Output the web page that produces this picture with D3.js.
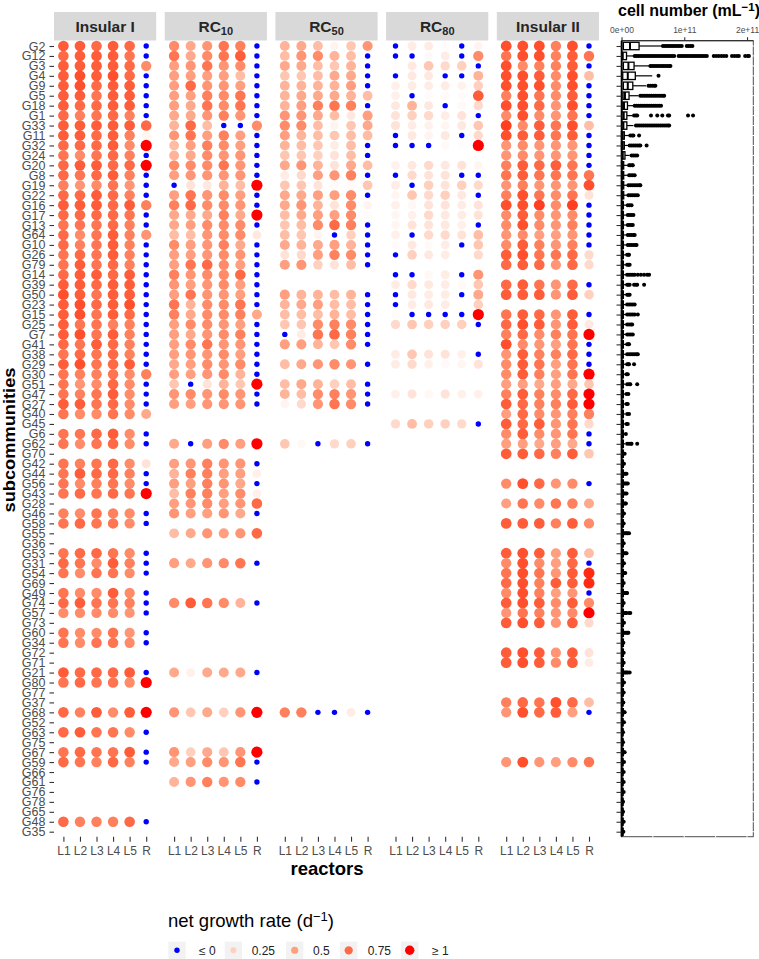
<!DOCTYPE html>
<html>
<head>
<meta charset="utf-8">
<script src="https://cdn.jsdelivr.net/npm/d3@7"></script>
<style>
  html, body { margin: 0; padding: 0; background: #fff; }
  svg { display: block; font-family: "Liberation Sans", Arial, sans-serif; }
</style>
</head>
<body>
<svg id="plot" width="759" height="959"></svg>
<script>
////////////////////////////////////////////////////////////////
// Data

let subcommunities = ["G2","G12","G3","G4","G9","G5","G18","G1","G33","G11","G32","G24","G20","G8","G19","G22","G16","G17","G13","G64",
  "G10","G26","G79","G14","G39","G50","G23","G15","G25","G7","G41","G38","G29","G30","G51","G47","G27","G40","G45","G6",
  "G62","G70","G42","G44","G56","G43","G28","G46","G58","G55","G36","G53","G31","G54","G69","G49","G74","G57","G73","G60",
  "G34","G72","G71","G21","G80","G77","G37","G68","G52","G63","G75","G67","G59","G66","G61","G76","G78","G65","G48","G35"]

let reactors = ["L1","L2","L3","L4","L5","R"]
let legendValues = [0,0.25,0.5,0.75,1]
let legendLabels = ["≤ 0","0.25","0.5","0.75","≥ 1"]
let boxTicks = [0,10,20]
let boxTickLabels = ["0e+00","1e+11","2e+11"]

// net growth rate, one row per subcommunity, columns L1..L5,R. null = no data
let n = null
let insular1 = [
[.8,.8,.75,.8,.75,0],[.75,.8,.8,.8,.7,0],[.8,.8,.8,.8,.75,.6],[.8,.85,.8,.85,.75,0],[.8,.85,.75,.8,.8,0],
[.8,.8,.7,.8,.8,0],[.8,.75,.75,.8,.8,0],[.75,.65,.7,.75,.65,0],[.8,.8,.8,.8,.8,.75],[.8,.8,.75,.8,.65,.05],
[.75,.75,.75,.8,.6,1],[.7,.6,.7,.75,.65,0],[.75,.8,.8,.75,.75,1],[.75,.7,.75,.8,.65,0],[.65,.55,.6,.7,.55,0],
[.75,.75,.8,.75,.65,0],[.8,.8,.8,.75,.8,.65],[.75,.75,.75,.75,.7,0],[.7,.7,.7,.75,.65,0],[.75,.6,.7,.8,.65,.55],
[.75,.65,.7,.8,.65,0],[.7,.75,.7,.8,.65,0],[.7,.8,.7,.75,.65,0],[.75,.8,.8,.75,.8,0],[.8,.8,.75,.8,.8,0],
[.85,.8,.7,.8,.8,0],[.8,.85,.75,.8,.85,0],[.8,.85,.7,.8,.75,0],[.8,.7,.7,.65,.65,0],[.8,.85,.7,.8,.65,0],
[.75,.7,.8,.75,.65,0],[.7,.75,.7,.75,.65,0],[.8,.85,.7,.75,.8,0],[.7,.65,.65,.7,.6,.65],[.7,.55,.6,.75,.6,0],
[.7,.65,.7,.8,.6,0],[.8,.8,.7,.75,.6,0],[.7,.6,.6,.7,.6,.45],n,[.7,.7,.75,.8,.6,0],
[.7,.6,.7,.75,.6,0],n,[.7,.65,.7,.75,.6,.15],[.7,.8,.75,.75,.65,0],[.7,.6,.65,.7,.6,0],
[.7,.75,.7,.75,.7,1],n,[.65,.6,.7,.65,.6,0],[.7,.75,.7,.7,.6,0],n,
n,[.7,.75,.75,.7,.6,0],[.75,.7,.6,.8,.65,0],[.7,.6,.7,.7,.6,0],n,
[.7,.6,.6,.8,.6,0],[.75,.8,.7,.7,.65,0],[.6,.6,.6,.6,.55,0],n,[.7,.6,.6,.7,.55,0],
[.7,.6,.7,.7,.6,0],n,n,[.8,.75,.75,.75,.8,0],[.7,.75,.7,.7,.6,1],
n,n,[.75,.65,.8,.6,.8,1],n,[.75,.8,.7,.7,.6,0],
n,[.7,.75,.7,.7,.8,0],[.75,.7,.65,.75,.65,0],n,n,
n,n,n,[.75,.65,.65,.65,.75,0],n]

let rc10 = [
[.6,.45,.55,.7,.65,0],[.7,.45,.6,.7,.8,0],[.5,.55,.7,.55,.6,0],[.5,.5,.5,.5,.35,0],[.5,.75,.55,.55,.5,0],
[.5,.5,.65,.6,.7,0],[.5,.45,.7,.6,.7,0],[.45,.45,.55,.65,.55,0],[.4,.75,.35,0,0,.6],[.55,.7,.5,.65,.5,0],
[.35,.5,.65,.6,.5,0],[.4,.45,.6,.55,.55,0],[.6,.6,.6,.7,.55,0],[.5,.55,.55,.55,.55,0],[0,.15,.12,.4,.35,1],
[.5,.7,.55,.6,.5,0],[.65,.75,.6,.6,.55,0],[.45,.45,.45,.65,.45,1],[.45,.5,.6,.6,.6,0],[.35,.35,.55,.6,.6,.12],
[.6,.5,.55,.65,.45,0],[.5,.5,.55,.6,.55,0],[.5,.7,.75,.6,.5,0],[.65,.55,.6,.6,.75,0],[.55,.5,.55,.6,.5,0],
[.5,.7,.55,.55,.5,0],[.7,.4,.6,.6,.7,0],[.65,.45,.6,.6,.65,.45],[.5,.6,.6,.55,.5,0],[.5,.45,.55,.6,.65,0],
[.5,.6,.7,.55,.55,0],[.5,.55,.55,.6,.5,0],[.45,.5,.6,.55,.6,0],[.5,.5,.55,.6,.4,0],[.3,0,.15,.4,.3,1],
[.55,.6,.55,.6,.55,0],[.5,.5,.55,.55,.55,0],n,n,n,
[.45,0,.5,.6,.5,1],n,[.5,.55,.65,.55,.55,0],[.4,.65,.65,.5,.5,.08],[.5,.5,.65,.55,.45,0],
[.35,.65,.65,.5,.6,.08],[.5,.55,.6,.5,.55,.75],[.55,.5,.5,.55,.45,0],n,[.35,.45,.55,.5,.55,.75],
n,n,[.5,.45,.55,.6,.7,0],n,n,
n,[.6,.8,.7,.6,.4,0],n,n,n,
n,n,n,[.45,.08,.45,.45,.45,0],n,
n,n,[.55,.3,.45,.25,.55,1],n,n,
n,[.55,.25,.45,.3,.55,1],[.45,.5,.6,.55,.7,0],n,[.4,.55,.65,.55,.6,0],
n,n,n,n,n]

let rc50 = [
[.4,.45,.35,.06,.3,.55],[.35,.55,.6,.4,.35,0],[.45,.45,.35,.3,.4,0],[.3,.3,.35,.45,.45,0],[.4,.4,.4,.4,.5,0],
[.4,.45,.45,.45,.4,.35],[.4,.5,.65,.7,.65,0],[.55,.55,.45,.35,.12,.5],[.6,.6,.35,.06,.3,.45],[.5,.4,.35,.3,.35,.35],
[.4,.35,.3,.1,.35,0],[.3,.3,.25,.15,.35,0],[.45,.55,.4,.15,.45,.35],[.1,.2,.5,.55,.65,0],[.3,.3,.15,.03,.03,.3],
[.45,.45,.5,.5,.6,0],[.45,.55,.4,.15,.6,.06],[.35,.45,.5,.5,.6,.02],[.3,.35,.6,.75,.65,0],[.35,.3,.06,0,.25,0],
[.45,.4,.45,.5,.4,0],[.15,.2,.5,.65,.6,0],[.5,.55,.25,.15,.35,0],n,n,
[.5,.4,.4,.35,.4,0],[.4,.45,.5,.35,.35,0],[.35,.35,.35,.4,.35,0],[.3,.3,.6,.65,.6,0],[0,.1,.7,.75,.65,0],
[.5,.5,.4,.3,.6,0],n,[.35,.45,.55,.6,.55,0],n,[.35,.45,.4,.25,.35,0],
[.4,.35,.6,.65,.55,0],[.06,.2,.55,.7,.6,0],n,n,n,
[.3,.04,0,.2,.25,0],n,n,n,n,
n,n,n,n,n,
n,n,n,n,n,
n,n,n,n,n,
n,n,n,n,n,
n,n,[.65,.65,0,0,.1,0],n,n,
n,n,n,n,n,
n,n,n,n,n]

let rc80 = [
[0,.1,.1,.02,0,.06],[0,0,.03,.1,0,.6],[.01,.12,.3,.2,.25,0],[0,.12,.12,0,0,.4],[.08,.1,.1,.1,.07,.25],
[.08,0,.02,.03,.02,.8],[.12,.4,.12,0,.03,.2],[.15,.25,.2,.1,.15,0],[.15,.1,.07,.05,.12,.3],[0,.12,.06,.12,0,.2],
[0,0,0,.03,.01,1],n,[.07,.12,.2,.12,.15,.05],[0,.2,.15,.15,0,0],[.1,0,.25,.15,.25,.2],
[.05,.3,.2,.25,.12,0],[.08,.04,.15,.15,.1,.15],[.05,.08,.2,.12,.1,.15],[.05,.15,.15,.12,.08,0],[.08,0,.2,.2,.15,.35],
[.02,.12,.03,.1,0,.3],[0,.25,.12,.1,n,.2],n,[0,0,.04,.1,0,.55],[.1,.2,.12,.1,.03,.3],
[0,.12,.1,.1,0,.45],[0,.1,.12,.1,n,.25],[.02,0,0,0,0,1],[.2,.3,.25,.25,.25,0],n,
n,[.1,.3,.15,.15,.08,0],[.1,.2,.08,.03,.05,.15],n,n,
[.08,.15,.04,.15,.08,.08],n,n,[.2,.35,.25,.25,.2,0],n,
n,n,n,n,n,
n,n,n,n,n,
n,n,n,n,n,
n,n,n,n,n,
n,n,n,n,n,
n,n,n,n,n,
n,n,n,n,n,
n,n,n,n,n]

let insular2 = [
[.85,.85,.85,.65,.85,0],[.7,.85,.85,.65,.8,.7],[.85,.6,.65,.65,.8,0],[.85,.85,.8,.6,.85,.35],[.85,.85,.85,.6,.85,0],
[.65,.85,.7,.6,.8,0],[.85,.85,.75,.55,.85,0],[.6,.85,.6,.55,.7,0],[.9,.6,.8,.7,.85,.35],[.85,.8,.8,.7,.8,0],
[.55,.6,.55,.55,.55,0],[.55,.6,.55,.55,.55,0],[.65,.8,.75,.8,.7,0],[.7,.8,.7,.7,.7,.7],[.55,.65,.55,.55,.55,.85],
[.65,.85,.7,.6,.7,.15],[.85,.85,.9,.6,.9,0],[.6,.8,.6,.55,.6,0],[.6,.85,.6,.55,.65,0],[.55,.6,.5,.5,.55,0],
[.6,.8,.65,.55,.65,0],[.8,.85,.7,.7,.75,.2],[.75,.8,.75,.55,.75,.2],n,[.75,.8,.7,.55,.75,0],
[.8,.8,.8,.55,.8,.25],n,[.7,.8,.75,.55,.8,0],[.75,.85,.8,.55,.8,.12],[.65,.75,.6,.65,.7,1],
[.85,.6,.55,.5,.7,0],[.55,.8,.65,.65,.75,0],[.6,.8,.7,.5,.7,0],[.6,.8,.65,.5,.7,1],[.5,.5,.45,.5,.45,.3],
[.65,.8,.65,.6,.75,1],[.8,.75,.65,.65,.8,1],[.5,.75,.6,.55,.65,.65],[.8,.75,.8,.55,.7,.2],[.6,.8,.6,.55,.7,0],
[.5,.5,.45,.5,.45,0],[.8,.8,.75,.65,.8,.3],n,n,[.6,.85,.75,.55,.6,0],
n,[.5,.7,.6,.7,.65,.45],n,[.8,.8,.8,.65,.8,.6],n,
n,[.8,.85,.8,.5,.8,.35],[.6,.85,.6,.5,.75,0],[.7,.85,.7,.55,.8,.95],[.75,.85,.65,.8,.8,.95],
[.6,.85,.65,.5,.55,0],[.8,.85,.8,.6,.8,.6],[.55,.7,.65,.55,.6,1],[.8,.85,.8,.55,.8,.2],n,
n,[.8,.85,.8,.55,.8,.15],[.8,.85,.8,.6,.8,.1],n,n,
n,[.65,.75,.7,.85,.75,.35],[.55,.85,.75,.8,.5,0],n,n,
n,n,[.55,.85,.55,.5,.6,.7],n,n,
n,n,n,n,n]

let panelNames = [["Insular I",""],["RC","10"],["RC","50"],["RC","80"],["Insular II",""]]
let panelValues = [insular1,rc10,rc50,rc80,insular2]

// boxplot of cell number, in units of 1e10 per mL
let boxQ1 = [.3,.05,.3,.2,.3,.25,.2,.1,.1,0,0,.05,0,0,0,0,0,0,0,0,
  0,0,0,0,0,0,0,0,0,0,0,0,0,0,0,0,0,0,0,0,
  0,0,0,0,0,0,0,0,0,0,0,0,0,0,0,0,0,0,0,0,
  0,0,0,0,0,0,0,0,0,0,0,0,0,0,0,0,0,0,0,0]
let boxMedian = [1.35,.2,1.1,1,1,.55,.4,.35,.3,.2,.2,.2,.15,.15,.15,.15,.15,.15,.15,.15,
  .15,.15,.15,.15,.15,.15,.15,.15,.15,.15,.15,.15,.15,.15,.15,.15,.15,.15,.15,.15,
  .15,.15,.15,.15,.15,.15,.15,.15,.15,.15,.15,.15,.15,.15,.15,.15,.15,.15,.15,.15,
  .15,.15,.15,.15,.15,.15,.15,.15,.15,.15,.15,.15,.15,.15,.15,.15,.15,.15,.15,.15]
let boxQ3 = [2.8,.8,2,2.2,1.8,1.2,.95,.85,.85,.45,.45,.55,.35,.35,.35,.35,.3,.3,.3,.3,
  .3,.3,.3,.3,.3,.3,.3,.3,.3,.3,.3,.3,.3,.3,.3,.3,.3,.3,.3,.3,
  .3,.3,.3,.3,.3,.3,.3,.3,.3,.3,.3,.3,.3,.3,.3,.3,.3,.3,.3,.3,
  .3,.3,.3,.3,.3,.3,.25,.3,.25,.25,.25,.3,.25,.25,.25,.25,.25,.25,.25,.25]
let boxWhisker = [6.4,1.9,4.4,4.9,3.9,2.7,1.9,1.75,1.9,1.25,1.2,1.3,.9,.9,.9,.9,.8,.8,.8,.8,
  .8,.7,.7,.7,.7,.7,.7,.7,.7,.7,.7,.7,.7,.6,.6,.6,.6,.6,.6,.6,
  .6,.5,.4,.5,.6,.5,.5,.4,.4,.6,.4,.5,.4,.4,.4,.5,.4,.6,.4,.5,
  .3,.4,.4,.6,.4,.4,.3,.4,.4,.3,.3,.4,.4,.4,.4,.4,.3,.3,.4,.3]
let boxOutliers = [
[6.6,6.9,7.2,7.5,7.8,8.1,8.4,8.7,9,9.3,9.6,10.4,10.7,11,11.3],
[2.1,2.4,2.7,3,3.3,3.6,3.9,4.2,4.5,4.8,5.1,5.4,5.7,6,6.3,6.6,6.9,7.2,7.5,7.8,8.1,8.4,9.1,9.4,9.7,10,10.3,10.6,10.9,11.2,11.5,11.8,12.1,12.4,12.7,13,13.3,13.6,14.7,15.1,15.5,15.9,16.3,16.7,17.6,18,18.4,18.7,19.7,20.1,20.3],
[4.6,4.9,5.2,5.5,5.8,6.1,6.4,6.7,7,7.3,7.6,7.8],
[5.9],
[4.3,4.6,4.9,5.2,5.4],
[3,3.3,3.6,3.9,4.2,4.5,4.8,5.1,5.4,5.7,6,6.3,6.6,6.8],
[2.1,2.4,2.7,3,3.3,3.6,3.9,4.2,4.5,4.8,5.1,5.4,5.7,6,6.3],
[2,2.3,2.5,4.7,5.7,6.5,7.4,7.6,10.6,11.4],
[2.3,2.6,2.9,3.2,3.5,3.8,4.1,4.4,4.7,5,5.3,5.6,5.9,6.2,6.5,6.8,7.1,7.4,7.6],
[1.4,1.7,1.9,2.8],
[1.3,1.6,1.9,2.2,2.5,2.8,3,4],
[1.6,1.9,2.2,2.5],
[1.2,1.4,1.7,1.8],
[1.2,1.5,1.8,2.1],
[1.1,1.4,1.7,2,2.3,2.6,2.9,3],
[1.1,1.4,1.7,2,2.3,2.6],
[1,1.3,1.6],
[1,1.3,1.6,1.9],
[1,1.3,1.6,1.8],
[1,1.3,1.6,1.9,2.1],
[1,1.3,1.6,1.9,2.2,2.4],
[.9,1.1,1.2],
[.9,1.1,1.3],
[.9,1.2,1.5,1.8,2.1,2.6,3.1,3.6,4.1,4.4],
[.9,1.1,1.3,2,2.3,2.5,3.6],
[.9,1.1,1.3],
[.9,1.2,1.5,1.8,2.1],
[.9,1.2,1.5,1.8,2.1,2.6],
[.9,1.2,1.5,1.7],
[.9,1.2,1.5,1.8],
[.9,1.1,1.2],
[.9,1.2,1.5,1.8,2.1,2.4,2.6],
[.9,1.1,1.2,2],
[.8,1],
[.9,1.2,1.4,2.5],
[.8,1.1],
[.8,1],
[.9,1.2],
[.8,1],
[.7],
[.9,1.2,1.5,1.6,2.5],
[.5],[.4],[.4,.6,.8],[.4,.6,.8,1],[.4,.6,.8],[.4,.6,.7],[.4],[.35],[.4,.6,.8,1,1.2],
[.35],[.4,.6,.8],[.4],[.4,.6],[.35],[.4,.6,.8,.9],[.35],[.4,.6,.8,1.2,1.4],[.4],[.4,.6,.8,1,1.1],
[.3],[.35],[.35],[.4,.6,.8,1,1.3],[.4],[.35],[.3],[.4,.5],[.4],[.25],
[.25],[.4,.5],[.4],[.35],[.35],[.35],[.25],[.25],[.35],[.3]]


////////////////////////////////////////////////////////////////
// Layout and scales

let svg = d3.select("#plot")

let panelLeft = 54, panelWidth = 102.2, panelStep = 110.7
let panelTop = 40.7, panelBottom = 836.7

let yScale = d3.scalePoint()
  .domain(subcommunities)
  .range([46,831.7])

let boxScale = d3.scaleLinear()
  .domain([0,21])
  .range([621.5,753.3])

function panelScale(i) {
  let left = panelLeft + panelStep*i
  return d3.scalePoint()
    .domain(reactors)
    .range([left+9.4,left+92.2])
}

// colour runs white to red in Lab, like the original gradient
function rateColor(v) {
  if (v <= 0) return "#0000ff"
  return d3.interpolateLab("#ffffff","#ff0000")(Math.min(v,1))
}

let rateSize = d3.scaleLinear()
  .domain([0,0.25,0.75,1])
  .range([4.2,4.8,5.3,5.6])

let legendSize = d3.scaleLinear()
  .domain([0.25,1])
  .range([3,4.7])

function styleAxis(g) {
  g.select(".domain").remove()
  g.selectAll(".tick line").attr("stroke","#333333").attr("stroke-width",1.1)
  g.selectAll(".tick text").attr("fill","#4d4d4d")
}


////////////////////////////////////////////////////////////////
// Dot panels

panelValues.forEach(function(rows,i) {
  let x = panelScale(i)
  let left = panelLeft + panelStep*i

  svg.append("rect")
    .attr("x",left)
    .attr("y",12)
    .attr("width",panelWidth)
    .attr("height",28.5)
    .attr("fill","#d9d9d9")

  let strip = svg.append("text")
    .attr("x",left+panelWidth/2)
    .attr("y",32)
    .attr("text-anchor","middle")
    .attr("font-size",15.5)
    .attr("font-weight","bold")
    .attr("fill","#262626")
  strip.append("tspan").text(panelNames[i][0])
  if (panelNames[i][1]) {
    strip.append("tspan")
      .attr("dy",3)
      .attr("font-size",11)
      .text(panelNames[i][1])
  }

  let cells = []
  rows.forEach(function(row,r) {
    if (row === null) return
    row.forEach(function(v,c) {
      if (v !== null) cells.push({row:subcommunities[r], col:reactors[c], v:v})
    })
  })

  svg.append("g")
    .selectAll("circle")
    .data(cells)
    .enter()
    .append("circle")
    .attr("cx",d => x(d.col))
    .attr("cy",d => yScale(d.row))
    .attr("r",d => d.v <= 0 ? 2.7 : rateSize(d.v))
    .attr("fill",d => rateColor(d.v))

  svg.append("g")
    .attr("transform","translate(0,"+panelBottom+")")
    .call(d3.axisBottom(x).tickSize(5).tickPadding(5))
    .call(styleAxis)
    .selectAll(".tick text")
    .attr("font-size",12)
    .attr("font-family","inherit")
})

svg.append("g")
  .attr("transform","translate(54,0)")
  .call(d3.axisLeft(yScale).tickSize(4.5).tickPadding(4))
  .call(styleAxis)
  .selectAll(".tick text")
  .attr("font-size",12.5)
  .attr("font-family","inherit")


////////////////////////////////////////////////////////////////
// Boxplot panel

let boxTop = panelTop, boxBottom = panelBottom

svg.append("rect")
  .attr("x",boxScale(0))
  .attr("y",boxTop)
  .attr("width",boxScale.range()[1]-boxScale(0))
  .attr("height",boxBottom-boxTop)
  .attr("fill","none")
  .attr("stroke","#4d4d4d")
  .attr("stroke-width",1)

// white grid lines cut the border into dashes
svg.append("g")
  .selectAll("line")
  .data(subcommunities)
  .enter()
  .append("line")
  .attr("x1",boxScale(0))
  .attr("x2",boxScale.range()[1]+1)
  .attr("y1",d => yScale(d))
  .attr("y2",d => yScale(d))
  .attr("stroke","#ffffff")
  .attr("stroke-width",1)

svg.append("g")
  .selectAll("line")
  .data([5,10,15,20])
  .enter()
  .append("line")
  .attr("x1",d => boxScale(d))
  .attr("x2",d => boxScale(d))
  .attr("y1",boxTop+1)
  .attr("y2",boxBottom+1)
  .attr("stroke","#ffffff")
  .attr("stroke-width",1)

svg.append("line")
  .attr("x1",boxScale(0))
  .attr("x2",boxScale.range()[1])
  .attr("y1",boxTop)
  .attr("y2",boxTop)
  .attr("stroke","#333333")
  .attr("stroke-width",1.2)

svg.append("line")
  .attr("x1",boxScale(0)+.2)
  .attr("x2",boxScale(0)+.2)
  .attr("y1",boxTop)
  .attr("y2",boxBottom)
  .attr("stroke","#000000")
  .attr("stroke-width",2)

let boxRows = svg.append("g")
  .selectAll("g")
  .data(subcommunities)
  .enter()
  .append("g")

boxRows.append("line")
  .attr("x1",(d,i) => boxScale(boxQ3[i]))
  .attr("x2",(d,i) => boxScale(boxWhisker[i]))
  .attr("y1",d => yScale(d))
  .attr("y2",d => yScale(d))
  .attr("stroke","#000000")
  .attr("stroke-width",1.2)

boxRows.append("rect")
  .attr("x",(d,i) => boxScale(boxQ1[i]))
  .attr("y",d => yScale(d)-3.7)
  .attr("width",(d,i) => boxScale(boxQ3[i])-boxScale(boxQ1[i]))
  .attr("height",7.4)
  .attr("fill","#ffffff")
  .attr("stroke","#000000")
  .attr("stroke-width",1.3)

boxRows.append("line")
  .attr("x1",(d,i) => boxScale(boxMedian[i]))
  .attr("x2",(d,i) => boxScale(boxMedian[i]))
  .attr("y1",d => yScale(d)-3.7)
  .attr("y2",d => yScale(d)+3.7)
  .attr("stroke","#000000")
  .attr("stroke-width",2)

boxRows.selectAll("circle")
  .data((d,i) => boxOutliers[i].map(v => ({v:v, row:d})))
  .enter()
  .append("circle")
  .attr("cx",d => boxScale(d.v))
  .attr("cy",d => yScale(d.row))
  .attr("r",2)
  .attr("fill","#000000")

svg.append("g")
  .attr("transform","translate("+boxScale(0)+",0)")
  .call(d3.axisLeft(yScale).tickSize(5).tickFormat(""))
  .call(styleAxis)

svg.append("g")
  .attr("transform","translate(0,"+boxTop+")")
  .call(d3.axisTop(boxScale).tickValues(boxTicks).tickSize(3.5).tickPadding(4)
    .tickFormat((d,i) => boxTickLabels[i]))
  .call(styleAxis)
  .selectAll(".tick text")
  .attr("font-size",8.5)
  .attr("font-family","inherit")


////////////////////////////////////////////////////////////////
// Titles

svg.append("text")
  .attr("x",327)
  .attr("y",875)
  .attr("text-anchor","middle")
  .attr("font-size",18.5)
  .attr("font-weight","bold")
  .text("reactors")

// the original is squeezed across its height, so stretch it along its length
svg.append("text")
  .attr("transform","translate(15,440) rotate(-90)")
  .attr("text-anchor","middle")
  .attr("font-size",16)
  .attr("font-weight","bold")
  .attr("textLength",145)
  .attr("lengthAdjust","spacingAndGlyphs")
  .text("subcommunities")

let boxTitle = svg.append("text")
  .attr("x",618)
  .attr("y",16)
  .attr("font-size",16)
  .attr("font-weight","bold")
boxTitle.append("tspan").text("cell number (mL")
boxTitle.append("tspan").attr("dy",-5).attr("font-size",11.5).text("−1")
boxTitle.append("tspan").attr("dy",5).text(")")


////////////////////////////////////////////////////////////////
// Legend

let legendTitle = svg.append("text")
  .attr("x",168)
  .attr("y",927)
  .attr("font-size",18.5)
legendTitle.append("tspan").text("net growth rate (d")
legendTitle.append("tspan").attr("dy",-6).attr("font-size",13).text("−1")
legendTitle.append("tspan").attr("dy",6).text(")")

let legendKeyX = [168.3,224.7,286,340,401]
let legendTextX = [199,251.7,313,367.7,432]

let legend = svg.append("g")
  .selectAll("g")
  .data(legendValues)
  .enter()
  .append("g")

legend.append("rect")
  .attr("x",(d,i) => legendKeyX[i])
  .attr("y",941.7)
  .attr("width",17.4)
  .attr("height",17.3)
  .attr("fill","#f2f2f2")

legend.append("circle")
  .attr("cx",(d,i) => legendKeyX[i]+8.7)
  .attr("cy",950.3)
  .attr("r",d => d <= 0 ? 2.7 : legendSize(d))
  .attr("fill",d => rateColor(d))

legend.append("text")
  .attr("x",(d,i) => legendTextX[i])
  .attr("y",954.5)
  .attr("font-size",12)
  .attr("fill","#222222")
  .text((d,i) => legendLabels[i])
</script>
</body>
</html>
